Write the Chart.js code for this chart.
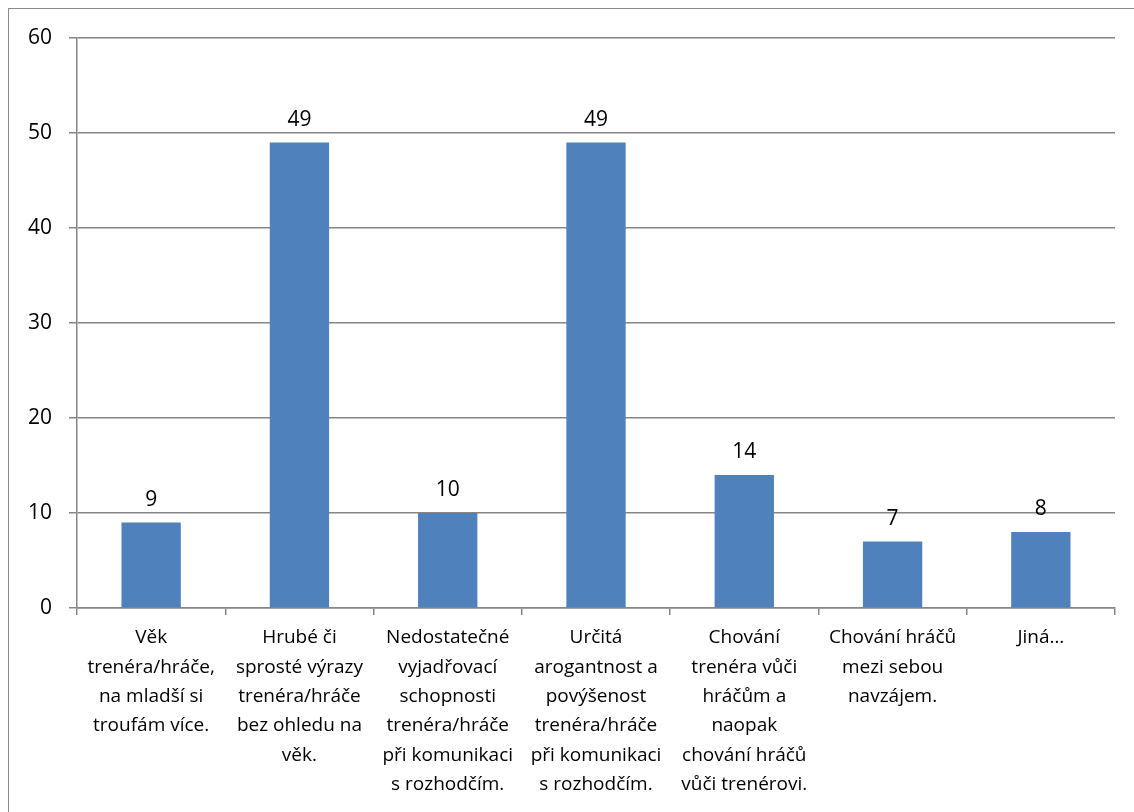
<!DOCTYPE html>
<html>
<head>
<meta charset="utf-8">
<script src="https://cdn.jsdelivr.net/npm/chart.js@4/dist/chart.umd.min.js"></script>
<style>
  html, body { margin: 0; padding: 0; background: #fff; }
  #frame { position: absolute; left: 8px; top: 8px; width: 1140px; height: 820px; border: 1px solid #8a8a8a; }
  #wrap { position: absolute; left: 0; top: 0; width: 1134px; height: 812px; }
</style>
</head>
<body>
<div id="frame"></div>
<div id="wrap"><canvas id="chart"></canvas></div>
<script>
const categories = [
    ['Věk', 'trenéra/hráče,', 'na mladší si', 'troufám více.'],
    ['Hrubé či', 'sprosté výrazy', 'trenéra/hráče', 'bez ohledu na', 'věk.'],
    ['Nedostatečné', 'vyjadřovací', 'schopnosti', 'trenéra/hráče', 'při komunikaci', 's rozhodčím.'],
    ['Určitá', 'arogantnost a', 'povýšenost', 'trenéra/hráče', 'při komunikaci', 's rozhodčím.'],
    ['Chování', 'trenéra vůči', 'hráčům a', 'naopak', 'chování hráčů', 'vůči trenérovi.'],
    ['Chování hráčů', 'mezi sebou', 'navzájem.'],
    ['Jiná…']
];
const values = [9, 49, 10, 49, 14, 7, 8];
const yTicks = [0, 10, 20, 30, 40, 50, 60];

const fontFamily = '"Open Sans", "Noto Sans", sans-serif';

// value labels above the bars
const valueLabels = {
    id: 'valueLabels',
    afterDatasetsDraw(chart) {
        const ctx = chart.ctx;
        const meta = chart.getDatasetMeta(0);
        ctx.save();
        ctx.font = '21px ' + fontFamily;
        ctx.fillStyle = '#000';
        ctx.textAlign = 'center';
        ctx.textBaseline = 'alphabetic';
        meta.data.forEach((bar, i) => {
            ctx.fillText(String(values[i]), bar.x, bar.y - 17);
        });
        ctx.restore();
    }
};

new Chart(document.getElementById('chart'), {
    type: 'bar',
    data: {
        labels: categories,
        datasets: [{
            data: values,
            backgroundColor: '#4F81BD',
            borderColor: '#4F81BD',
            borderWidth: 0,
            categoryPercentage: 1,
            barPercentage: 0.4
        }]
    },
    options: {
        responsive: true,
        maintainAspectRatio: false,
        animation: false,
        layout: { padding: { top: 38, right: 19, left: 0, bottom: 0 } },
        plugins: {
            legend: { display: false },
            tooltip: { enabled: false }
        },
        scales: {
            x: {
                grid: {
                    offset: true,
                    drawOnChartArea: false,
                    drawTicks: true,
                    tickLength: 7,
                    color: '#868686',
                    lineWidth: 1.5
                },
                border: { color: '#868686', width: 1.5 },
                ticks: {
                    color: '#000',
                    maxRotation: 0,
                    autoSkip: false,
                    padding: 8,
                    font: { family: fontFamily, size: 19, lineHeight: 1.55 }
                },
                afterFit(scale) { scale.height = 204; }
            },
            y: {
                min: 0,
                max: 60,
                afterBuildTicks(scale) { scale.ticks = yTicks.map(v => ({ value: v })); },
                grid: {
                    color: '#868686',
                    lineWidth: 1.5,
                    tickLength: 8
                },
                border: { color: '#868686', width: 1.5 },
                ticks: {
                    color: '#000',
                    padding: 17,
                    font: { family: fontFamily, size: 21 }
                },
                afterFit(scale) { scale.width = 77; }
            }
        }
    },
    plugins: [valueLabels]
});
</script>
</body>
</html>
